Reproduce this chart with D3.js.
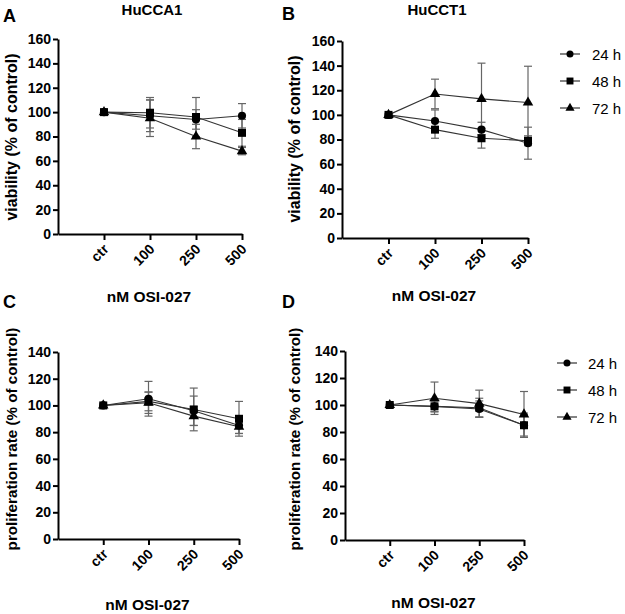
<!DOCTYPE html>
<html>
<head>
<meta charset="utf-8">
<script src="https://cdn.jsdelivr.net/npm/d3@7"></script>
<style>
  body { margin: 0; background: #fff; }
  svg { display: block; font-family: "Liberation Sans", Arial, sans-serif; }
</style>
</head>
<body>
<svg id="chart" width="625" height="614"></svg>
<script>
// ---------- data ----------
const categories = ["ctr", "100", "250", "500"];
const seriesNames = ["24 h", "48 h", "72 h"];
const xAxisTitle = "nM OSI-027";

// Panel A: HuCCA1 viability
const a24 = [100, 97, 94, 97],  a24err = [0, 13, 8, 10];
const a48 = [100, 99.5, 96, 83], a48err = [0, 12.5, 16, 11];
const a72 = [100, 95, 80, 68],  a72err = [0, 15, 10, 3];

// Panel B: HuCCT1 viability
const b24 = [100, 95, 88, 77],  b24err = [0, 9, 6, 13];
const b48 = [100, 88, 81, 79],  b48err = [0, 7, 8, 4];
const b72 = [100, 117, 113, 110], b72err = [0, 12, 29, 29.5];

// Panel C: HuCCA1 proliferation
const c24 = [100, 105, 96, 85],  c24err = [0, 13, 11, 6];
const c48 = [100, 103, 97, 90],  c48err = [0, 7, 16, 13];
const c72 = [100, 102, 92, 84],  c72err = [0, 8, 7, 5];

// Panel D: HuCCT1 proliferation
const d24 = [100, 99, 97, 85],  d24err = [0, 4, 6, 8];
const d48 = [100, 99, 98, 85],  d48err = [0, 4, 7, 9];
const d72 = [100, 105, 101, 93], d72err = [0, 12, 10, 17];

const yTicksViability = [0, 20, 40, 60, 80, 100, 120, 140, 160];
const yTicksProlif = [0, 20, 40, 60, 80, 100, 120, 140];

// ---------- drawing ----------
const svg = d3.select("#chart");
const markerTypes = [d3.symbolCircle, d3.symbolSquare, d3.symbolTriangle];
const markerSizes = [52, 64, 48];
const markerOrder = [2, 0, 1];

function panel(cfg) {
  const g = svg.append("g");
  const x = d3.scaleLinear().domain([-1, categories.length - 1]).range([cfg.x0, cfg.x1]);
  const y = d3.scaleLinear().domain([0, cfg.ymax]).range([cfg.y0, cfg.y1]);

  g.append("text").attr("x", cfg.letterX).attr("y", cfg.letterY)
    .attr("font-size", 18).attr("font-weight", "bold").text(cfg.letter);
  if (cfg.title) {
    g.append("text").attr("x", (cfg.x0 + cfg.x1) / 2 + 2).attr("y", 15)
      .attr("text-anchor", "middle").attr("font-size", 15).attr("font-weight", "bold")
      .text(cfg.title);
  }

  const yAx = g.append("g").attr("transform", `translate(${cfg.x0},0)`)
    .call(d3.axisLeft(y).tickValues(cfg.yTicks).tickSize(5).tickSizeOuter(0).tickPadding(2));
  yAx.selectAll("path, line").attr("stroke", "#000").attr("stroke-width", 2);
  yAx.selectAll("text").attr("font-size", 14).attr("font-weight", "bold")
    .attr("fill", "#000").attr("font-family", "Liberation Sans, Arial, sans-serif");

  const xAx = g.append("g").attr("transform", `translate(0,${cfg.y0})`)
    .call(d3.axisBottom(x).tickValues(d3.range(categories.length))
      .tickFormat(i => categories[i]).tickSize(6).tickSizeOuter(0));
  xAx.selectAll("path, line").attr("stroke", "#000").attr("stroke-width", 2);
  xAx.selectAll("text").attr("font-size", 14).attr("font-weight", "bold")
    .attr("fill", "#000").attr("font-family", "Liberation Sans, Arial, sans-serif")
    .attr("text-anchor", "end").attr("dy", null).attr("y", 0)
    .attr("transform", "translate(5,16) rotate(-45)");

  g.append("text").attr("x", (cfg.x0 + cfg.x1) / 2 - 1).attr("y", cfg.xTitleY)
    .attr("text-anchor", "middle").attr("font-size", 15.5).attr("font-weight", "bold")
    .text(xAxisTitle);
  g.append("text")
    .attr("transform", `translate(${cfg.yTitleX},${cfg.yTitleY}) rotate(-90)`)
    .attr("text-anchor", "middle").attr("font-size", cfg.yTitleSize).attr("font-weight", "bold")
    .text(cfg.yTitle);

  const idx = d3.range(categories.length);
  const line = d3.line().x(i => x(i));

  cfg.series.forEach((s) => {
    const eg = g.append("g").attr("stroke", "#666").attr("stroke-width", 1.2);
    idx.forEach(i => {
      if (!s.err[i]) return;
      const cx = x(i), top = y(s.v[i] + s.err[i]), bot = y(s.v[i] - s.err[i]);
      eg.append("line").attr("x1", cx).attr("x2", cx).attr("y1", top).attr("y2", bot);
      eg.append("line").attr("x1", cx - 4).attr("x2", cx + 4).attr("y1", top).attr("y2", top);
      eg.append("line").attr("x1", cx - 4).attr("x2", cx + 4).attr("y1", bot).attr("y2", bot);
    });
  });
  cfg.series.forEach((s) => {
    g.append("path").datum(idx)
      .attr("d", line.y(i => y(s.v[i])))
      .attr("fill", "none").attr("stroke", "#333").attr("stroke-width", 1.1);
  });
  markerOrder.forEach(k => {
    const s = cfg.series[k];
    g.selectAll(null).data(idx).join("path")
      .attr("transform", i => `translate(${x(i)},${y(s.v[i])})`)
      .attr("d", d3.symbol().type(markerTypes[k]).size(markerSizes[k]))
      .attr("fill", "#000");
  });

  if (cfg.legend) {
    const L = cfg.legend;
    seriesNames.forEach((name, k) => {
      const ly = L.y + k * L.dy;
      g.append("line").attr("x1", L.x - 10).attr("x2", L.x + 10).attr("y1", ly).attr("y2", ly)
        .attr("stroke", "#333").attr("stroke-width", 1.2);
      g.append("path").attr("transform", `translate(${L.x},${ly})`)
        .attr("d", d3.symbol().type(markerTypes[k]).size(markerSizes[k] * 0.75)).attr("fill", "#000");
      g.append("text").attr("x", L.tx).attr("y", ly + 5.5).attr("font-size", 15)
        .attr("fill", "#000").text(name);
    });
  }
}

panel({
  letter: "A", letterX: 3, letterY: 22, title: "HuCCA1",
  x0: 58, x1: 242, y0: 234, y1: 39, ymax: 160, yTicks: yTicksViability,
  xTitleY: 302, yTitle: "viability (% of control)", yTitleX: 17, yTitleY: 137, yTitleSize: 16,
  series: [{v: a24, err: a24err}, {v: a48, err: a48err}, {v: a72, err: a72err}]
});
panel({
  letter: "B", letterX: 282, letterY: 20, title: "HuCCT1",
  x0: 342, x1: 528, y0: 238, y1: 41, ymax: 160, yTicks: yTicksViability,
  xTitleY: 301, yTitle: "viability (% of control)", yTitleX: 300, yTitleY: 139, yTitleSize: 16,
  series: [{v: b24, err: b24err}, {v: b48, err: b48err}, {v: b72, err: b72err}],
  legend: {x: 570, tx: 592, y: 54, dy: 27}
});
panel({
  letter: "C", letterX: 3, letterY: 308,
  x0: 58, x1: 239, y0: 539, y1: 352, ymax: 140, yTicks: yTicksProlif,
  xTitleY: 610, yTitle: "proliferation rate (% of control)", yTitleX: 17, yTitleY: 439, yTitleSize: 15.2,
  series: [{v: c24, err: c24err}, {v: c48, err: c48err}, {v: c72, err: c72err}]
});
panel({
  letter: "D", letterX: 282, letterY: 308,
  x0: 345, x1: 524, y0: 540, y1: 351, ymax: 140, yTicks: yTicksProlif,
  xTitleY: 608, yTitle: "proliferation rate (% of control)", yTitleX: 300, yTitleY: 439, yTitleSize: 15.2,
  series: [{v: d24, err: d24err}, {v: d48, err: d48err}, {v: d72, err: d72err}],
  legend: {x: 567, tx: 588, y: 363, dy: 27}
});
</script>
</body>
</html>
